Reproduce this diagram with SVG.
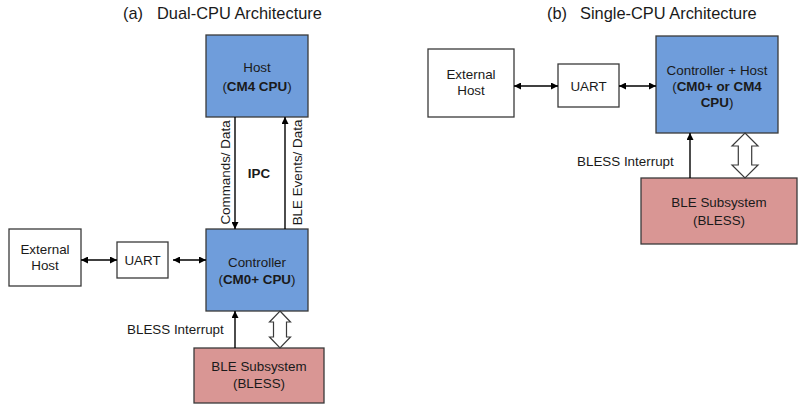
<svg xmlns="http://www.w3.org/2000/svg" width="806" height="410" viewBox="0 0 806 410">
<defs>
<marker id="ah" viewBox="0 0 10 10" refX="10" refY="5" markerWidth="8" markerHeight="7" markerUnits="userSpaceOnUse" orient="auto-start-reverse">
<path d="M0,0 L10,5 L0,10 z" fill="#000"/>
</marker>
<style>
text{font-family:"Liberation Sans",Arial,sans-serif;font-size:13.4px;fill:#1a1a1a}
.t{font-size:16.4px}
.c{text-anchor:middle}
.b{font-weight:bold}
.w{fill:#fff;stroke:#3a3a3a;stroke-width:1.3}
.bl{fill:#6f9ddb;stroke:#3a3a3a;stroke-width:1.3}
.rd{fill:#d99694;stroke:#3a3a3a;stroke-width:1.3}
.ln{stroke:#000;stroke-width:1.4;fill:none}
.hol{fill:#fff;stroke:#3a3a3a;stroke-width:1.2}
</style>
</defs>
<text class="t" x="123" y="18.5">(a)</text>
<text class="t" x="157" y="18.5">Dual-CPU Architecture</text>
<text class="t" x="547" y="18.5">(b)</text>
<text class="t" x="580" y="18.5">Single-CPU Architecture</text>

<g id="a-host"><rect class="bl" x="206" y="35" width="102" height="82"/>
<text class="c" x="257" y="72">Host</text>
<text class="c" x="257" y="90.5">(<tspan class="b">CM4 CPU</tspan>)</text></g>
<g id="a-ctrl"><rect class="bl" x="206" y="229" width="102" height="82"/>
<text class="c" x="257" y="267">Controller</text>
<text class="c" x="257" y="283.5">(<tspan class="b">CM0+ CPU</tspan>)</text></g>
<g id="a-ext"><rect class="w" x="9" y="229" width="72" height="57"/>
<text class="c" x="45" y="254">External</text>
<text class="c" x="45" y="270">Host</text></g>
<g id="a-uart"><rect class="w" x="117" y="242" width="51" height="36"/>
<text class="c" x="142.5" y="264.5">UART</text></g>
<g id="a-bless"><rect class="rd" x="194" y="348" width="130" height="55"/>
<text class="c" x="259" y="371">BLE Subsystem</text>
<text class="c" x="259" y="387.5">(BLESS)</text></g>

<g id="b-ext"><rect class="w" x="428" y="49" width="86" height="68"/>
<text class="c" x="471" y="78.5">External</text>
<text class="c" x="471" y="95">Host</text></g>
<g id="b-uart"><rect class="w" x="558" y="64" width="61" height="43"/>
<text class="c" x="588.5" y="90.5">UART</text></g>
<g id="b-ch"><rect class="bl" x="656" y="36" width="122" height="97"/>
<text class="c" x="717" y="74.5">Controller + Host</text>
<text class="c" x="717" y="90.5">(<tspan class="b">CM0+ or CM4</tspan></text>
<text class="c" x="717" y="106.5"><tspan class="b">CPU</tspan>)</text></g>
<g id="b-bless"><rect class="rd" x="641" y="178" width="156" height="66"/>
<text class="c" x="719" y="206.5">BLE Subsystem</text>
<text class="c" x="719" y="224.5">(BLESS)</text></g>

<g id="connectors">
<line class="ln" x1="235" y1="117" x2="235" y2="229" marker-end="url(#ah)"/>
<line class="ln" x1="285" y1="229" x2="285" y2="117" marker-end="url(#ah)"/>
<line class="ln" x1="81" y1="260" x2="117" y2="260" marker-start="url(#ah)" marker-end="url(#ah)"/>
<line class="ln" x1="173" y1="260" x2="206" y2="260" marker-start="url(#ah)" marker-end="url(#ah)"/>
<line class="ln" x1="235" y1="348" x2="235" y2="311" marker-end="url(#ah)"/>
<polygon class="hol" points="280,311 290.5,322 286.5,322 286.5,337 290.5,337 280,348 269.5,337 273.5,337 273.5,322 269.5,322"/>
<line class="ln" x1="514" y1="86" x2="558" y2="86" marker-start="url(#ah)" marker-end="url(#ah)"/>
<line class="ln" x1="619" y1="86" x2="656" y2="86" marker-start="url(#ah)" marker-end="url(#ah)"/>
<line class="ln" x1="690" y1="178" x2="690" y2="133" marker-end="url(#ah)"/>
<polygon class="hol" points="745,133 758,146 751.7,146 751.7,165 758,165 745,178 732,165 738.3,165 738.3,146 732,146"/>
<text transform="translate(229.5,172.5) rotate(-90)" class="c">Commands/ Data</text>
<text transform="translate(301.5,172.5) rotate(-90)" class="c">BLE Events/ Data</text>
<text class="c b" x="259" y="178">IPC</text>
<text x="127" y="334">BLESS Interrupt</text>
<text x="577" y="165.5">BLESS Interrupt</text>
</g>
</svg>
